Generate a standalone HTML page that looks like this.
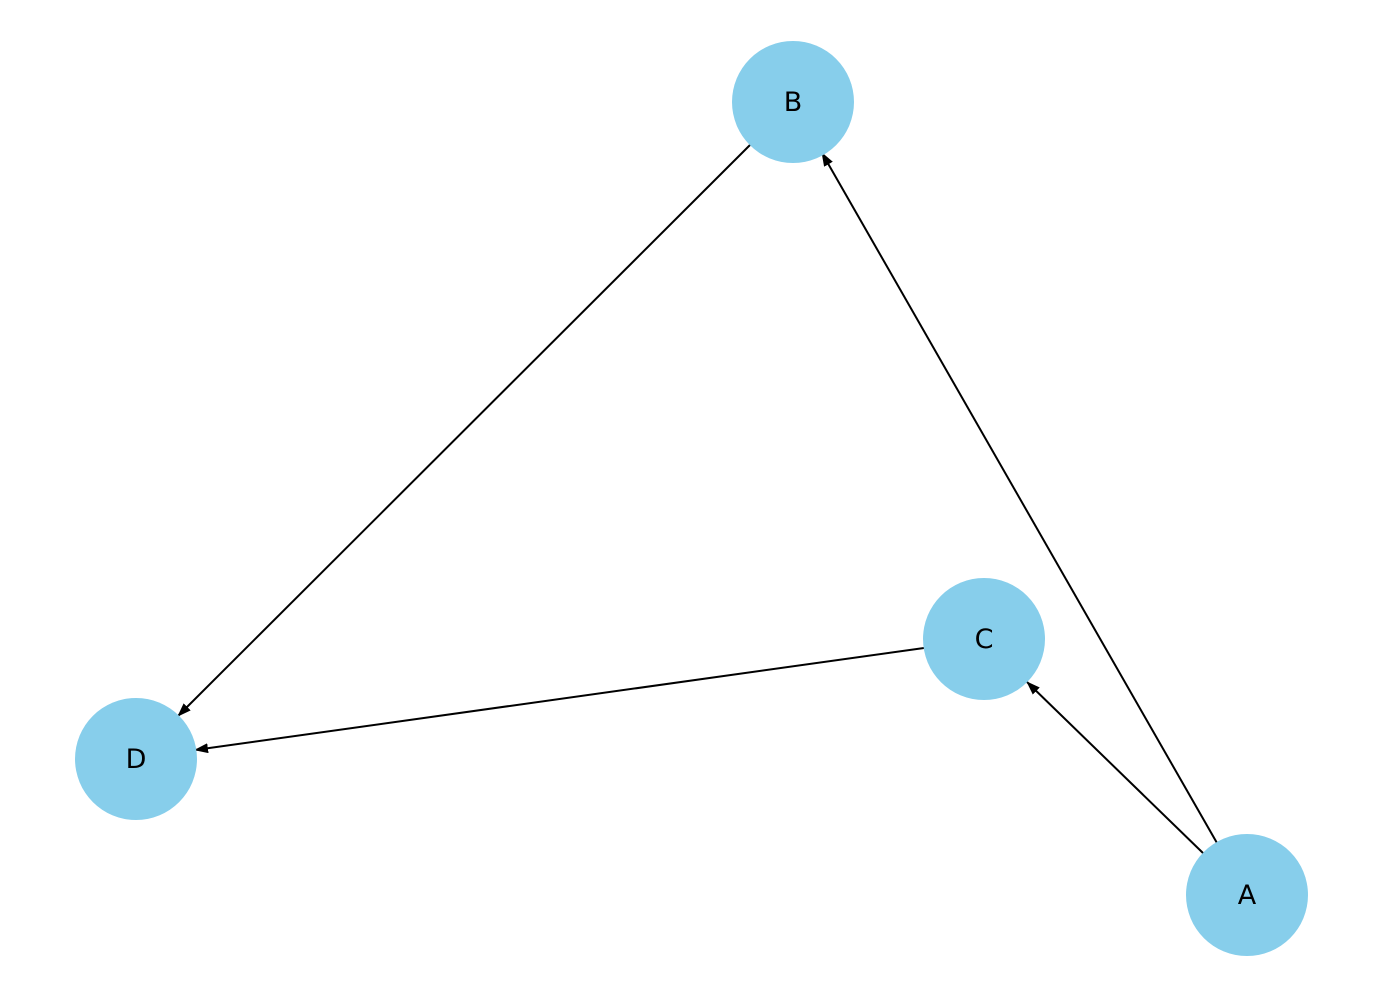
<!DOCTYPE html>
<html><head><meta charset="utf-8"><style>
html,body{margin:0;padding:0;background:#fff;}
svg{display:block;}
</style></head><body>
<svg width="1382" height="998" viewBox="0 0 1382 998" xmlns="http://www.w3.org/2000/svg">
<defs>
<marker id="ah" markerWidth="14" markerHeight="10" refX="13" refY="5" orient="auto" markerUnits="userSpaceOnUse">
<path d="M0,0 L14,5 L0,10 z" fill="#000"/>
</marker>
</defs>
<g stroke="#000" stroke-width="2" fill="none">
<line x1="750" y1="145" x2="178" y2="716" marker-end="url(#ah)"/>
<line x1="1217" y1="843" x2="822" y2="153" marker-end="url(#ah)"/>
<line x1="1204" y1="854" x2="1027" y2="682" marker-end="url(#ah)"/>
<line x1="924" y1="648" x2="195" y2="750" marker-end="url(#ah)"/>
</g>
<g fill="#87CEEB">
<circle cx="793" cy="102" r="61"/>
<circle cx="984" cy="639" r="61"/>
<circle cx="136" cy="759" r="61"/>
<circle cx="1247" cy="895" r="61"/>
</g>
<g text-anchor="middle" font-family="DejaVu Sans, Liberation Sans, sans-serif" font-size="27" fill="#000">
<text x="793" y="111">B</text>
<text x="984" y="648">C</text>
<text x="136" y="768">D</text>
<text x="1247" y="904">A</text>
</g>
</svg>
</body></html>
